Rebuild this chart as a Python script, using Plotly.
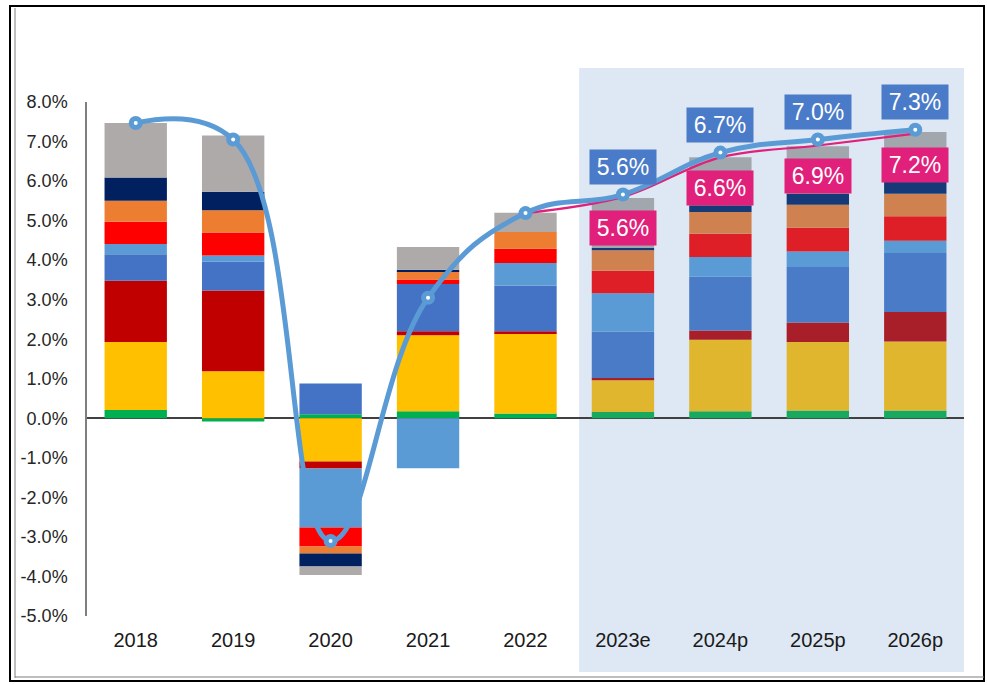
import plotly.graph_objects as go

years = ["2018", "2019", "2020", "2021", "2022", "2023e", "2024p", "2025p", "2026p"]

green     = [0.21, -0.08, 0.10, 0.18, 0.12, 0.16, 0.18, 0.20, 0.20]
yellow    = [1.72, 1.19, -1.09, 1.92, 2.03, 0.80, 1.81, 1.73, 1.74]
darkred   = [1.55, 2.04, -0.18, 0.10, 0.05, 0.06, 0.23, 0.49, 0.75]
medblue   = [0.67, 0.73, 0.78, 1.20, 1.16, 1.17, 1.36, 1.41, 1.49]
lightblue = [0.26, 0.16, -1.49, -1.26, 0.57, 0.97, 0.50, 0.39, 0.31]
red       = [0.56, 0.58, -0.48, 0.11, 0.36, 0.57, 0.59, 0.60, 0.62]
orange    = [0.53, 0.56, -0.18, 0.21, 0.42, 0.52, 0.55, 0.58, 0.57]
navy      = [0.59, 0.47, -0.33, 0.04, 0.00, 0.06, 0.17, 0.27, 0.36]
gray      = [1.38, 1.42, -0.21, 0.57, 0.49, 1.26, 1.21, 1.21, 1.20]

total_line = [7.47, 7.05, -3.10, 3.05, 5.19, 5.66, 6.72, 7.05, 7.30]
alt_years = ["2022", "2023e", "2024p", "2025p", "2026p"]
alt_line = [5.19, 5.60, 6.60, 6.90, 7.20]

label_years = ["2023e", "2024p", "2025p", "2026p"]
blue_labels = ["5.6%", "6.7%", "7.0%", "7.3%"]
blue_label_y = [5.66, 6.72, 7.05, 7.30]
pink_labels = ["5.6%", "6.6%", "6.9%", "7.2%"]
pink_label_y = [5.60, 6.60, 6.90, 7.20]

yticks = [8, 7, 6, 5, 4, 3, 2, 1, 0, -1, -2, -3, -4, -5]
ytick_text = [f"{v:.1f}%" for v in yticks]

# styles: (historical colour, forecast colour)
series = [
    (green, "#00B050", "#18A95E"),
    (yellow, "#FFC000", "#DFB62E"),
    (darkred, "#C00000", "#A91F29"),
    (medblue, "#4472C4", "#4A7BC6"),
    (lightblue, "#5B9BD5", "#5A9AD5"),
    (red, "#FF0000", "#DE1F27"),
    (orange, "#ED7D31", "#CF8250"),
    (navy, "#002060", "#153A77"),
    (gray, "#AEAAAA", "#A2A7AE"),
]
n_hist = 5

fig = go.Figure()
for vals, c_hist, c_fc in series:
    cols = [c_hist if i < n_hist else c_fc for i in range(len(years))]
    fig.add_trace(go.Bar(x=years, y=vals, marker=dict(color=cols, line=dict(width=0)),
                         width=0.64, showlegend=False, hoverinfo="skip"))

fig.add_trace(go.Scatter(x=alt_years, y=alt_line, mode="lines",
                         line=dict(color="#E0207A", width=2.2, shape="spline", smoothing=1),
                         showlegend=False))
fig.add_trace(go.Scatter(x=years, y=total_line, mode="lines+markers",
                         line=dict(color="#5B9BD5", width=5, shape="spline", smoothing=1.2),
                         marker=dict(size=14, color="#5B9BD5"),
                         showlegend=False))
fig.add_trace(go.Scatter(x=years, y=total_line, mode="markers",
                         marker=dict(size=4, color="white"), showlegend=False))

for x, y, t in zip(label_years, blue_label_y, blue_labels):
    fig.add_annotation(x=x, y=y, text=t, showarrow=False, yshift=28,
                       xanchor="center", yanchor="middle",
                       bgcolor="#4A7BC8", width=60, height=28, borderpad=3,
                       font=dict(family="Liberation Sans, Arial", size=23, color="white"))
for x, y, t in zip(label_years, pink_label_y, pink_labels):
    fig.add_annotation(x=x, y=y, text=t, showarrow=False, yshift=-31,
                       xanchor="center", yanchor="middle",
                       bgcolor="#E0207B", width=60, height=28, borderpad=3,
                       font=dict(family="Liberation Sans, Arial", size=23, color="white"))

# forecast shading
fig.add_shape(type="rect", xref="x", yref="paper", x0=4.55, x1=8.53, y0=-0.109, y1=1.066,
              fillcolor="#DEE8F4", line=dict(width=0), layer="below")

# outer frame (pixel positions converted to paper coords, plot area 87..964 x 102..616)
def px_x(p):
    return (p - 87) / 877.0
def px_y(p):
    return (616 - p) / 514.0

fig.add_shape(type="rect", xref="paper", yref="paper",
              x0=px_x(10), x1=px_x(984), y0=px_y(681), y1=px_y(6),
              line=dict(color="black", width=2), fillcolor="rgba(0,0,0,0)", layer="above")
fig.add_shape(type="line", xref="paper", yref="paper",
              x0=px_x(15), x1=px_x(15), y0=px_y(678), y1=px_y(8),
              line=dict(color="#7F7F7F", width=1))
fig.add_shape(type="line", xref="paper", yref="paper",
              x0=px_x(15), x1=px_x(984), y0=px_y(677), y1=px_y(677),
              line=dict(color="#7F7F7F", width=1))

fig.update_layout(
    width=987, height=685,
    margin=dict(l=87, r=23, t=102, b=69),
    barmode="relative",
    plot_bgcolor="rgba(0,0,0,0)", paper_bgcolor="white",
    showlegend=False,
    font=dict(family="Liberation Sans, Arial", size=16, color="#262626"),
)
fig.update_xaxes(range=[-0.5, 8.5], showgrid=False, showline=False, ticks="",
                 tickfont=dict(size=20, color="#1a1a1a"), ticklabelstandoff=10)
fig.update_yaxes(range=[-5, 8], tickvals=yticks, ticktext=ytick_text, showgrid=False,
                 showline=True, linecolor="#7F7F7F", linewidth=1.5,
                 zeroline=True, zerolinecolor="#404040", zerolinewidth=1.5,
                 ticks="", tickfont=dict(size=18, color="#262626"), ticklabelstandoff=14)

fig.write_html("out.html", config={"displayModeBar": False},
               post_script="document.body.style.margin='0';document.body.style.overflow='hidden';")
